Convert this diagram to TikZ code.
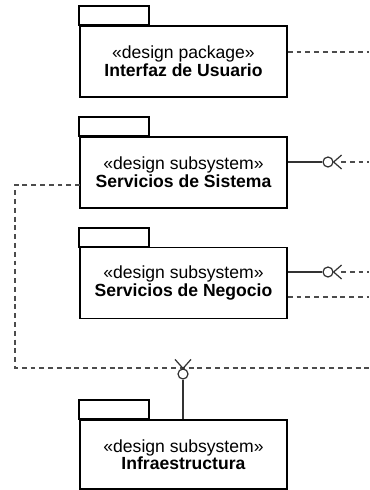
\documentclass[tikz,border=0pt]{standalone}
\usepackage{fontspec}
\setmainfont{Liberation Sans}
\begin{document}
\begin{tikzpicture}[
  x=0.02cm, y=-0.02cm,
  pkg/.style={draw, line width=0.9pt, rectangle, minimum width=4.14cm, minimum height=1.42cm,
    inner sep=0pt, align=center, font=\fontsize{10}{10}\selectfont},
  dep/.style={draw=black!70, line width=0.6pt, dash pattern=on 2.8pt off 2.2pt},
  conn/.style={draw=black!80, line width=0.7pt},
  ball/.style={draw=black!80, line width=0.7pt, circle, minimum size=0.2cm, inner sep=0pt}
]
\useasboundingbox (0,0) rectangle (369,490);

\node[pkg] (iu) at (183.5,61.5) {«design package»\\\textbf{Interfaz de Usuario}};
\node[pkg] (ss) at (183.5,172.5) {«design subsystem»\\\textbf{Servicios de Sistema}};
\node[pkg] (sn) at (183.5,283) {«design subsystem»\\\textbf{Servicios de Negocio}};
\node[pkg, minimum height=1.38cm] (inf) at (183.5,454.5) {«design subsystem»\\\textbf{Infraestructura}};

\foreach \p in {iu,ss,sn,inf}
  \draw[line width=0.9pt] (\p.north west) rectangle ++(70,-19);

\node[ball] (b2) at (328,162) {};
\node[ball] (b3) at (328,272) {};
\node[ball] (b4) at (183,374) {};

\coordinate (r1) at (369,52);
\coordinate (r2) at (369,162);
\coordinate (r3) at (369,272);
\coordinate (r3b) at (369,297);
\coordinate (r4) at (369,368);
\coordinate (l2) at (80,185);
\coordinate (c4) at (15,368);
\coordinate (s2) at (341,162);
\coordinate (s3) at (341,272);

\draw[dep] (iu.east |- r1) -- (r1);

\draw[conn] (ss.east |- b2) -- (b2.west);
\draw[conn] ([shift={(8,-7)}]b2.east) -- (b2.east) -- ([shift={(8,7)}]b2.east);
\draw[dep] (s2) -- (r2);

\draw[conn] (sn.east |- b3) -- (b3.west);
\draw[conn] ([shift={(8,-7)}]b3.east) -- (b3.east) -- ([shift={(8,7)}]b3.east);
\draw[dep] (s3) -- (r3);
\draw[dep] (sn.east |- r3b) -- (r3b);

\draw[dep] (l2) -| (c4) -- (r4);
\draw[conn] ([shift={(-8,-9)}]b4.north) -- (b4.north) -- ([shift={(8,-9)}]b4.north);
\draw[conn] (b4.south) -- (b4.south |- inf.north);

\end{tikzpicture}
\end{document}
